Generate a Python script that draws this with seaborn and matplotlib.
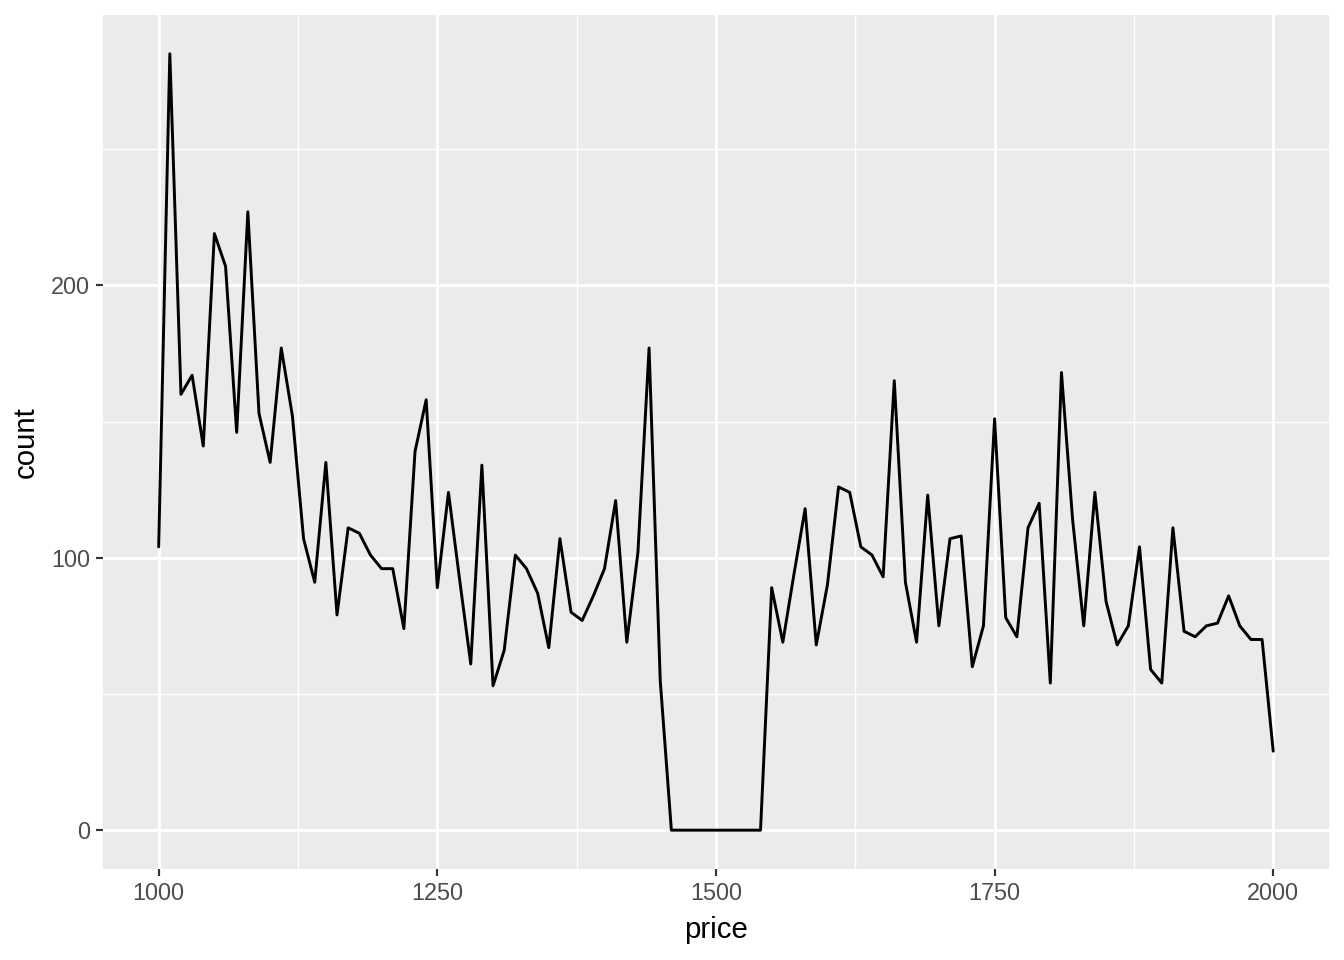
import numpy as np
import pandas as pd
import seaborn as sns
import matplotlib.pyplot as plt
from matplotlib.ticker import FixedLocator

# Frequency polygon of price (binwidth 10)
price = list(range(1000, 2001, 10))
count = [
    104, 285, 160, 167, 141, 219, 207, 146, 227, 153,
    135, 177, 152, 107, 91, 135, 79, 111, 109, 101,
    96, 96, 74, 139, 158, 89, 124, 92, 61, 134,
    53, 66, 101, 96, 87, 67, 107, 80, 77, 86,
    96, 121, 69, 102, 177, 55, 0, 0, 0, 0,
    0, 0, 0, 0, 0, 89, 69, 94, 118, 68,
    90, 126, 124, 104, 101, 93, 165, 91, 69, 123,
    75, 107, 108, 60, 75, 151, 78, 71, 111, 120,
    54, 168, 114, 75, 124, 84, 68, 75, 104, 59,
    54, 111, 73, 71, 75, 76, 86, 75, 70, 70,
    29,
]
x_ticks = [1000, 1250, 1500, 1750, 2000]
x_minor = [1125, 1375, 1625, 1875]
y_ticks = [0, 100, 200]
y_minor = [50, 150, 250]

df = pd.DataFrame({"price": price, "count": count})

sns.set_theme(style="darkgrid")
plt.rcParams["font.family"] = ["Liberation Sans", "DejaVu Sans"]

fig = plt.figure(figsize=(7, 5), dpi=192)
ax = fig.add_axes([0.0766, 0.0948, 0.9122, 0.8896])
ax.set_facecolor("#EBEBEB")

sns.lineplot(data=df, x="price", y="count", color="black", linewidth=1.1, ax=ax)

# ggplot-like expansion (5%)
xr = max(price) - min(price)
yr = max(count) - min(count)
ax.set_xlim(min(price) - 0.05 * xr, max(price) + 0.05 * xr)
ax.set_ylim(min(count) - 0.05 * yr, max(count) + 0.05 * yr)

ax.xaxis.set_major_locator(FixedLocator(x_ticks))
ax.xaxis.set_minor_locator(FixedLocator(x_minor))
ax.yaxis.set_major_locator(FixedLocator(y_ticks))
ax.yaxis.set_minor_locator(FixedLocator(y_minor))

ax.grid(which="major", color="white", linewidth=1.1)
ax.grid(which="minor", color="white", linewidth=0.55)
ax.set_axisbelow(True)
for s in ax.spines.values():
    s.set_visible(False)

ax.tick_params(axis="both", which="major", length=2.75, width=0.8, color="#333333",
               labelsize=8.8, labelcolor="#4D4D4D", pad=2.2, bottom=True, left=True)
ax.tick_params(axis="both", which="minor", length=0)

ax.set_xlabel("price", fontsize=11, color="black", labelpad=4)
ax.set_ylabel("count", fontsize=11, color="black", labelpad=4)

fig.savefig("out.png", dpi=192, facecolor="white")
